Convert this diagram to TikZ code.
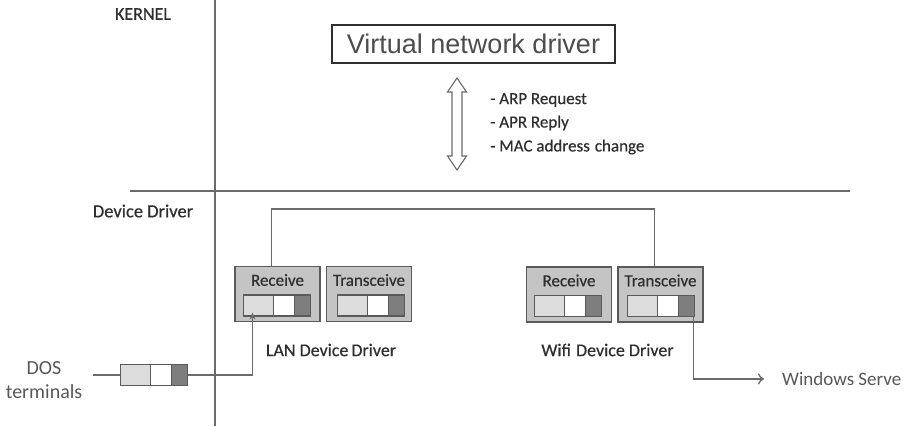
\documentclass[tikz,border=0pt]{standalone}
\usepackage{fontspec}
\setmainfont{Carlito}
\newfontfamily\lblfont[FakeBold=0.5]{Carlito}
\newfontfamily\arialf{Liberation Sans}
\usetikzlibrary{arrows.meta,calc}
\definecolor{linec}{HTML}{6A6A6A}
\definecolor{txtc}{HTML}{2E2E2E}
\definecolor{boxfill}{HTML}{C4C4C4}
\definecolor{boxborder}{HTML}{5A5A5A}
\definecolor{seglight}{HTML}{DCDCDC}
\definecolor{segdark}{HTML}{7E7E7E}
\tikzset{
  lbl/.style={text=txtc, inner sep=0pt, font=\lblfont\fontsize{17}{20}\selectfont},
  drvbox/.style={draw=boxborder, fill=boxfill, line width=1.2pt, minimum width=85pt, minimum height=55pt, inner sep=0pt},
  seg/.style={draw=boxborder, line width=1.2pt, minimum height=21pt, inner sep=0pt},
  conn/.style={draw=linec, line width=1.3pt},
  strip/.pic={
    \node[seg, fill=seglight, minimum width=30pt, anchor=west] (-a) at (-33.5,0) {};
    \node[seg, fill=white,    minimum width=21pt, anchor=west] (-b) at (-3.5,0) {};
    \node[seg, fill=segdark,  minimum width=16pt, anchor=west] (-c) at (17.5,0) {};
  }
}
\begin{document}
\begin{tikzpicture}[x=1pt,y=-1pt]
\useasboundingbox (0,0) rectangle (921,426);
% layer lines
\coordinate (vtop) at (215,0);
\coordinate (vbot) at (215,426);
\coordinate (hl) at (130,191);
\coordinate (hr) at (850,191);
\draw[conn] (vtop) -- (vbot);
\draw[conn] (hl) -- (hr);
\node[lbl, font=\lblfont\fontsize{18}{20}\selectfont] (kernel) at (143,14) {KERNEL};
\node[lbl, font=\lblfont\fontsize{18.5}{20}\selectfont] (ddlbl) at (143,211) {Device Driver};

% virtual network driver
\node[draw=txtc, fill=white, line width=1.6pt, minimum width=283pt, minimum height=38pt, inner sep=0pt,
      text=txtc!85!white, font=\arialf\fontsize{27}{30}\selectfont] (vnd) at (473.5,44) {Virtual network driver};

% hollow double arrow
\draw[draw=linec, fill=white, line width=1.1pt]
  (457,78) -- (466.5,92) -- (462,92) -- (462,156) -- (466.5,156) -- (457,170)
  -- (447.5,156) -- (452,156) -- (452,92) -- (447.5,92) -- cycle;
\node[lbl, anchor=west] (arp) at (490,100) {- ARP Request};
\node[lbl, anchor=west] (apr) at (490,123) {- APR Reply};
\node[lbl, anchor=west] (mac) at (490,147) {- MAC address\hspace{5pt}change};

% LAN driver
\node[drvbox] (lanrx) at (277.5,294) {};
\node[drvbox] (lantx) at (369,294) {};
\node[lbl] (lanrxl) at ($(lanrx)+(0,-14)$) {Receive};
\node[lbl] (lantxl) at ($(lantx)+(0,-14)$) {Transceive};
\pic (lanrxs) at ($(lanrx)+(-1.5,11.5)$) {strip};
\pic (lantxs) at ($(lantx)+(1,11.5)$) {strip};
\node[lbl, font=\lblfont\fontsize{18}{20}\selectfont] (landd) at (331,350) {LAN Device\hspace{3pt}Driver};

% Wifi driver
\node[drvbox] (wifirx) at (569,294.5) {};
\node[drvbox] (wifitx) at (660.5,294.5) {};
\node[lbl] (wifirxl) at ($(wifirx)+(0,-14)$) {Receive};
\node[lbl] (wifitxl) at ($(wifitx)+(0,-14)$) {Transceive};
\pic (wifirxs) at ($(wifirx)+(-1.5,11.5)$) {strip};
\pic (wifitxs) at ($(wifitx)+(0,11.5)$) {strip};
\node[lbl, font=\lblfont\fontsize{18}{20}\selectfont] (wifidd) at (607.5,350) {Wifi\hspace{5pt}Device Driver};

% connector between drivers
\draw[conn] ([xshift=-6pt]lanrx.north) -- ++(0,-57) -| ([xshift=-6pt]wifitx.north);

% DOS terminals
\node[lbl, font=\fontsize{20}{22}\selectfont, text=txtc!80!white, align=center] (dos) at (44,380) {DOS\\[2pt]terminals};
\pic (doss) at (153.5,375) {strip};
\coordinate (dosin) at (93,375);
\draw[conn] (dosin) -- (doss-a.west);
\draw[conn, -{Stealth[length=7pt,width=6pt]}] (doss-c.east) -| ([xshift=10pt,yshift=4pt]lanrxs-a.south west);

% Windows server
\node[lbl, font=\fontsize{19}{22}\selectfont, text=txtc!80!white, anchor=west] (winsrv) at (782,379) {Windows Serve};
\draw[conn, -{To[length=6pt,width=11pt]}, shorten >=18pt] ([xshift=-2pt]wifitxs-c.south east) |- (winsrv.west);
\end{tikzpicture}
\end{document}
